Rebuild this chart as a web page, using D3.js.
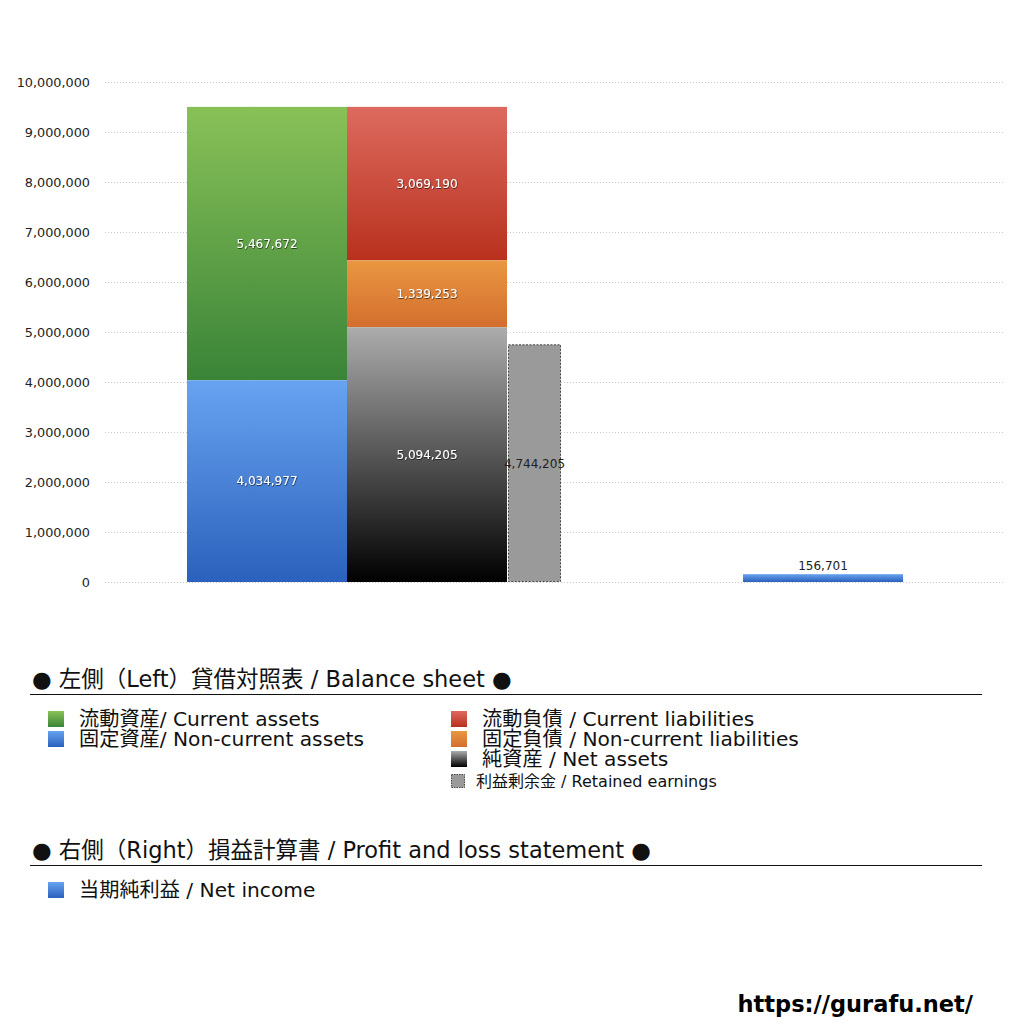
<!DOCTYPE html>
<html>
<head>
<meta charset="utf-8">
<script src="https://cdn.jsdelivr.net/npm/d3@7"></script>
<style>
  body { margin: 0; background: #fff; }
  svg { display: block; }
  text { font-family: "DejaVu Sans", "Noto Sans CJK JP", sans-serif; }
</style>
</head>
<body>
<script>
// ---- data ----
let assetNames = ['流動資産/ Current assets', '固定資産/ Non-current assets'];
let assetValues = [5467672, 4034977];           // stacked top -> bottom: current on top
let liabNames = ['流動負債 /  Current liabilities', '固定負債 / Non-current liabilities', '純資産 / Net assets'];
let liabValues = [3069190, 1339253, 5094205];
let retainedName = '利益剰余金 / Retained earnings';
let retainedValue = 4744205;
let incomeName = '当期純利益 / Net income';
let incomeValue = 156701;
let yTicks = [0, 1000000, 2000000, 3000000, 4000000, 5000000, 6000000, 7000000, 8000000, 9000000, 10000000];

let svg = d3.select('body')
    .append('svg')
        .attr('width', 1024)
        .attr('height', 1024);

let defs = svg.append('defs');

function grad(id, top, bottom) {
    let g = defs.append('linearGradient')
        .attr('id', id)
        .attr('x1', 0).attr('y1', 0).attr('x2', 0).attr('y2', 1);
    g.append('stop').attr('offset', '0%').attr('stop-color', top);
    g.append('stop').attr('offset', '100%').attr('stop-color', bottom);
}
grad('g-green', '#89c158', '#3a8438');
grad('g-blue', '#67a3f1', '#2b61bc');
grad('g-red', '#dd6a5f', '#b8311d');
grad('g-orange', '#e99741', '#d36e2e');
grad('g-gray', '#acacac', '#000000');

let shadow = defs.append('filter').attr('id', 'shadow')
    .attr('x', '-20%').attr('y', '-50%').attr('width', '140%').attr('height', '200%');
shadow.append('feDropShadow')
    .attr('dx', 0.5).attr('dy', 0.7).attr('stdDeviation', 0.5)
    .attr('flood-color', '#000').attr('flood-opacity', 0.8);

// ============================================ SCALES =================================================================
let plotLeft = 105, plotRight = 1005;

let y = d3.scaleLinear()
    .domain([0, 10000000])
    .range([582, 82]);

// the two statements share the plot width
let x = d3.scaleBand()
    .domain(['left', 'right'])
    .range([plotLeft, plotRight]);

let columns = {
    assets:   { x: x('left') + 82,   w: 160 },
    liab:     { x: x('left') + 242,  w: 160 },
    retained: { x: x('left') + 403,  w: 53 },
    income:   { x: x('right') + 188, w: 160 }
};

// ============================================ GRID / AXIS ============================================================
let yAxis = d3.axisLeft(y)
    .tickValues(yTicks)
    .tickSize(-(plotRight - plotLeft))
    .tickPadding(15)
    .tickFormat(d3.format(','));

let axisG = svg.append('g')
    .attr('transform', 'translate(' + plotLeft + ',0)')
    .call(yAxis);

axisG.select('.domain').remove();
axisG.selectAll('.tick line')
    .attr('stroke', '#c8c8c8')
    .attr('stroke-width', 1)
    .attr('stroke-dasharray', '1,2');
axisG.selectAll('.tick text')
    .attr('fill', '#222')
    .attr('font-size', 12.8)
    .style('font-family', '"DejaVu Sans", sans-serif');

// ============================================ BARS ===================================================================
function stack(values) {
    let top = d3.sum(values);
    return values.map(function (v) {
        let seg = { y0: top - v, y1: top, v: v };
        top -= v;
        return seg;
    });
}

let fmt = d3.format(',');

function drawStack(col, values, fills) {
    let segs = stack(values);
    let g = svg.append('g');
    g.selectAll('rect')
        .data(segs).enter()
        .append('rect')
            .attr('x', col.x)
            .attr('width', col.w)
            .attr('y', function (d) { return y(d.y1) })
            .attr('height', function (d) { return y(d.y0) - y(d.y1) })
            .attr('fill', function (d, i) { return 'url(#' + fills[i] + ')' });
    g.selectAll('text')
        .data(segs).enter()
        .append('text')
            .attr('x', col.x + col.w / 2)
            .attr('y', function (d) { return (y(d.y0) + y(d.y1)) / 2 })
            .attr('dy', '0.35em')
            .attr('text-anchor', 'middle')
            .attr('font-size', 12)
            .attr('fill', '#fff')
            .attr('filter', 'url(#shadow)')
            .text(function (d) { return fmt(d.v) });
}

drawStack(columns.assets, assetValues, ['g-green', 'g-blue']);
drawStack(columns.liab, liabValues, ['g-red', 'g-orange', 'g-gray']);

// retained earnings
svg.append('rect')
    .attr('x', columns.retained.x + 0.5)
    .attr('width', columns.retained.w - 1)
    .attr('y', y(retainedValue))
    .attr('height', y(0) - y(retainedValue) - 0.5)
    .attr('fill', '#9a9a9a')
    .attr('stroke', '#222')
    .attr('stroke-width', 0.8)
    .attr('stroke-dasharray', '2,1.5');

svg.append('text')
    .attr('x', columns.retained.x + columns.retained.w / 2)
    .attr('y', y(retainedValue / 2))
    .attr('dy', '0.35em')
    .attr('text-anchor', 'middle')
    .attr('font-size', 12)
    .attr('fill', '#222')
    .text(fmt(retainedValue));

// net income
svg.append('rect')
    .attr('x', columns.income.x)
    .attr('width', columns.income.w)
    .attr('y', y(incomeValue))
    .attr('height', y(0) - y(incomeValue))
    .attr('fill', 'url(#g-blue)');

svg.append('text')
    .attr('x', columns.income.x + columns.income.w / 2)
    .attr('y', y(incomeValue) - 4)
    .attr('text-anchor', 'middle')
    .attr('font-size', 12)
    .attr('fill', '#222')
    .text(fmt(incomeValue));

// ============================================ LEGEND =================================================================
function header(label, yPos) {
    svg.append('text')
        .attr('x', 32)
        .attr('y', yPos)
        .attr('font-size', 22.5)
        .attr('fill', '#111')
        .text(label);
    svg.append('line')
        .attr('x1', 30).attr('x2', 982)
        .attr('y1', yPos + 7.5).attr('y2', yPos + 7.5)
        .attr('stroke', '#111')
        .attr('stroke-width', 1);
}

function item(xPos, yMid, fill, label) {
    svg.append('rect')
        .attr('x', xPos).attr('y', yMid - 8)
        .attr('width', 16).attr('height', 16)
        .attr('fill', fill);
    svg.append('text')
        .attr('x', xPos + 31)
        .attr('y', yMid)
        .attr('dy', '0.36em')
        .attr('font-size', 20.2)
        .attr('fill', '#111')
        .text(label);
}

header('● 左側（Left）貸借対照表 / Balance sheet ●', 687);

let leftFills = ['url(#g-green)', 'url(#g-blue)'];
assetNames.forEach(function (n, i) { item(48, 719 + i * 20, leftFills[i], n) });

let rightFills = ['url(#g-red)', 'url(#g-orange)', 'url(#g-gray)'];
liabNames.forEach(function (n, i) { item(451, 719 + i * 20, rightFills[i], n) });

svg.append('rect')
    .attr('x', 451.5).attr('y', 774.5)
    .attr('width', 13).attr('height', 13)
    .attr('fill', '#9a9a9a')
    .attr('stroke', '#222')
    .attr('stroke-width', 0.8)
    .attr('stroke-dasharray', '1.5,1');
svg.append('text')
    .attr('x', 476)
    .attr('y', 781)
    .attr('dy', '0.36em')
    .attr('font-size', 16)
    .attr('fill', '#111')
    .text(retainedName);

header('● 右側（Right）損益計算書 / Profit and loss statement ●', 858);
item(48, 890, 'url(#g-blue)', incomeName);

// watermark
svg.append('text')
    .attr('x', 973)
    .attr('y', 1012)
    .attr('text-anchor', 'end')
    .attr('font-size', 22.5)
    .attr('font-weight', 'bold')
    .attr('fill', '#000')
    .text('https://gurafu.net/');
</script>
</body>
</html>
